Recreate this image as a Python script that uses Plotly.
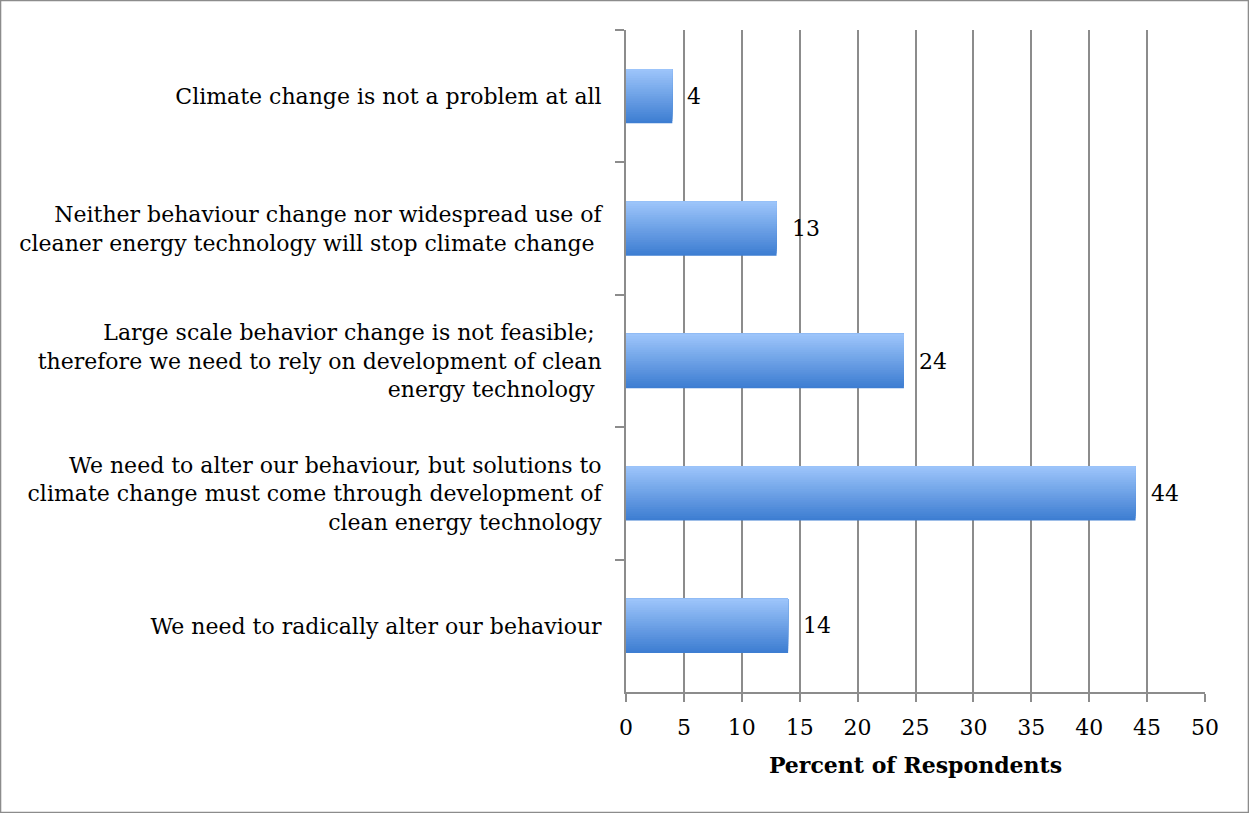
import plotly.graph_objects as go

categories = [
    "Climate change is not a problem at all",
    "Neither behaviour change nor widespread use of<br>cleaner energy technology will stop climate change ",
    "Large scale behavior change is not feasible; <br>therefore we need to rely on development of clean<br>energy technology ",
    "We need to alter our behaviour, but solutions to<br>climate change must come through development of<br>clean energy technology",
    "We need to radically alter our behaviour",
]
values = [4, 13, 24, 44, 14]
x_ticks = [0, 5, 10, 15, 20, 25, 30, 35, 40, 45, 50]

FONT = "DejaVu Serif"
FS = 22
W, H = 1249, 813
L, R, T, B = 626, 44, 30, 121
GRID = "#8c8c8c"

# gradient simulation: stacked overlay layers sharing the top edge
light = (156, 196, 250)
dark = (62, 126, 210)
N = 24
BW = 0.41
fig = go.Figure()
for i in range(N):
    f = i / (N - 1)
    c = tuple(int(round(dark[k] + (light[k] - dark[k]) * f)) for k in range(3))
    fig.add_trace(go.Bar(
        x=values, y=categories, orientation="h",
        width=BW * (1 - i / N), offset=-BW / 2,
        marker=dict(color="rgb(%d,%d,%d)" % c, line=dict(width=0)),
        hoverinfo="skip", showlegend=False,
    ))

for v, c in zip(values, categories):
    fig.add_annotation(x=v, y=c, text=str(v), showarrow=False, xanchor="left",
                       xshift=13, font=dict(family=FONT, size=FS, color="black"))

fig.update_layout(
    width=W, height=H, barmode="overlay",
    margin=dict(l=L, r=R, t=T, b=B),
    paper_bgcolor="white", plot_bgcolor="white",
    font=dict(family=FONT, size=FS, color="black"),
    xaxis=dict(range=[0, 50], tickvals=x_ticks, showgrid=True, gridcolor=GRID, gridwidth=2,
               showline=True, linecolor=GRID, linewidth=2, ticks="outside", ticklen=8,
               tickcolor=GRID, tickwidth=2, zeroline=False, ticklabelstandoff=7,
               title=dict(text="<b>Percent of Respondents</b>", font=dict(size=FS), standoff=18),
               tickfont=dict(size=FS)),
    yaxis=dict(autorange="reversed", type="category", showgrid=False, showline=True,
               linecolor=GRID, linewidth=2, ticks="outside", ticklen=9, tickcolor=GRID,
               tickwidth=2, tickson="boundaries", ticklabelstandoff=18,
               tickfont=dict(size=FS)),
    shapes=[dict(type="rect", xref="paper", yref="paper",
                 x0=-L / (W - L - R) + 0.0005, x1=1 + R / (W - L - R) - 0.0005,
                 y0=-B / (H - T - B) + 0.0005, y1=1 + T / (H - T - B) - 0.0005,
                 line=dict(color="#8c8c8c", width=2), layer="below")],
)

fig.write_html("out.html", config={"displayModeBar": False},
               post_script="document.body.style.margin='0';document.body.style.overflow='hidden';")
